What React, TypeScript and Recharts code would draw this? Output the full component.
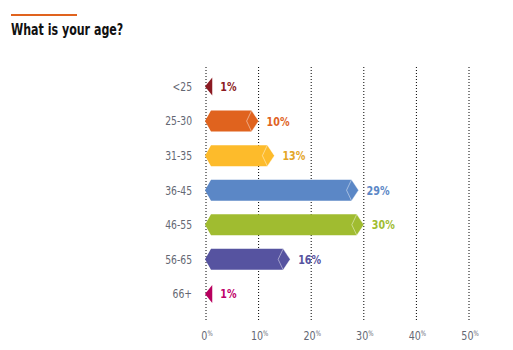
import { BarChart, Bar, XAxis, YAxis, CartesianGrid, Cell, LabelList } from "recharts";

const categories = ["<25", "25-30", "31-35", "36-45", "46-55", "56-65", "66+"];
const values = [1, 10, 13, 29, 30, 16, 1];
const barColors = ["#8b1a22", "#e0631e", "#fdbb2b", "#5b87c6", "#a0bc30", "#5653a0", "#b8005e"];
const labelColors = ["#8b1a22", "#e0631e", "#e3a526", "#5b87c6", "#a0bc30", "#5653a0", "#c0006a"];
const xTicks = [0, 10, 20, 30, 40, 50];

const data = categories.map((age, i) => ({ age, pct: values[i], color: barColors[i] }));

const FONT = "'DejaVu Sans Condensed', 'Liberation Sans Narrow', sans-serif";
const SQUEEZE = 0.82;

// text squeezed horizontally to get the narrow look of the original
// eslint-disable-next-line @typescript-eslint/no-explicit-any
function Narrow({ x, y, anchor = "start", children, ...rest }: any) {
  return (
    <text transform={`translate(${x},${y}) scale(${SQUEEZE},1)`} x={0} y={0} textAnchor={anchor} fontFamily={FONT} {...rest}>
      {children}
    </text>
  );
}

// hexagon-ish arrow bar, or a small left triangle for tiny values
// eslint-disable-next-line @typescript-eslint/no-explicit-any
function ArrowBar(props: any) {
  const { x, y, width, height, payload } = props;
  const cy = y + height / 2;
  const fill = payload.color;
  if (width < 10) {
    const th = 9;
    return <path d={`M${x - 1},${cy} L${x + width + 1},${cy - th} L${x + width + 1},${cy + th} Z`} fill={fill} />;
  }
  const end = x + width;
  const d = `M${x - 1},${cy} L${x + 5},${y} L${end - 7},${y} L${end},${cy} L${end - 7},${y + height} L${x + 5},${y + height} Z`;
  return (
    <g>
      <path d={d} fill={fill} />
      <polyline
        points={`${end - 7},${y} ${end - 12},${cy} ${end - 7},${y + height}`}
        fill="none"
        stroke="#ffffff"
        strokeOpacity={0.45}
      />
      <polyline
        points={`${end - 7},${y} ${end},${cy} ${end - 7},${y + height}`}
        fill="none"
        stroke="#ffffff"
        strokeOpacity={0.35}
      />
    </g>
  );
}

// eslint-disable-next-line @typescript-eslint/no-explicit-any
function BarLabel(props: any) {
  const { x, y, width, height, index } = props;
  const tiny = width < 10;
  return (
    <Narrow x={x + width + (tiny ? 9 : 8)} y={y + height / 2 + 4.5} fill={labelColors[index]} fontSize={13} fontWeight={600}>
      {values[index]}%
    </Narrow>
  );
}

// eslint-disable-next-line @typescript-eslint/no-explicit-any
function AgeTick({ x, y, payload }: any) {
  return (
    <Narrow x={x} y={y + 4.5} anchor="end" fill="#646773" fontSize={12.5}>
      {payload.value}
    </Narrow>
  );
}

// eslint-disable-next-line @typescript-eslint/no-explicit-any
function PctTick({ x, y, payload }: any) {
  return (
    <Narrow x={x + 1} y={y + 12} anchor="middle" fill="#646773" fontSize={13}>
      {payload.value}
      <tspan fontSize={7.5} dy={-4}>%</tspan>
    </Narrow>
  );
}

export default function App() {
  return (
    <div style={{ position: "absolute", left: 0, top: 0, width: 513, height: 350, background: "#fff" }}>
      <div style={{ position: "absolute", left: 11, top: 14, width: 66, height: 2, background: "#e0631e" }} />
      <div
        style={{
          position: "absolute",
          left: 11,
          top: 21,
          fontFamily: FONT,
          fontWeight: "bold",
          fontSize: 15,
          color: "#111",
          whiteSpace: "nowrap",
          transform: `scaleX(${SQUEEZE})`,
          transformOrigin: "0 0",
        }}
      >
        What is your age?
      </div>
      <BarChart
        width={513}
        height={350}
        data={data}
        layout="vertical"
        margin={{ top: 67, right: 44, bottom: 0, left: 0 }}
      >
        <CartesianGrid horizontal={false} stroke="#000" strokeDasharray="1 2" />
        <XAxis
          type="number"
          domain={[0, 50]}
          ticks={xTicks}
          axisLine={false}
          tickLine={false}
          tick={<PctTick />}
          height={30}
        />
        <YAxis
          type="category"
          dataKey="age"
          width={206}
          axisLine={false}
          tickLine={false}
          tickSize={0}
          tickMargin={14}
          padding={{ top: 2, bottom: 9 }}
          tick={<AgeTick />}
        />
        <Bar dataKey="pct" barSize={21} shape={<ArrowBar />} isAnimationActive={false}>
          {data.map((d) => (
            <Cell key={d.age} fill={d.color} />
          ))}
          <LabelList dataKey="pct" content={<BarLabel />} />
        </Bar>
      </BarChart>
    </div>
  );
}
